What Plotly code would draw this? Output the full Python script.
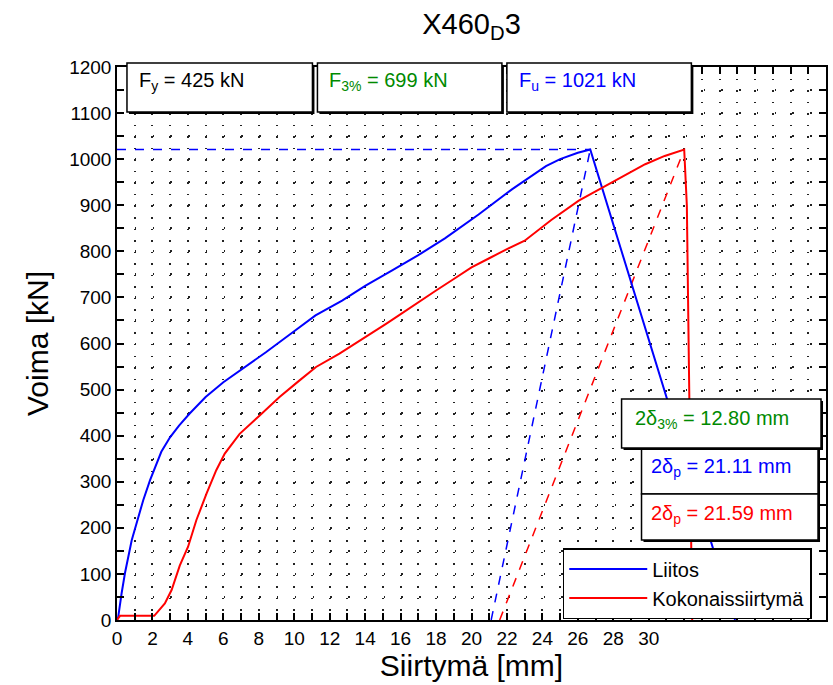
import plotly.graph_objects as go

# ---------------- data ----------------
liitos_x = [0, 0.07, 0.26, 0.45, 0.83, 1.1, 1.48, 1.86, 2.14, 2.5, 3.0, 3.5, 4.1, 5.0, 6.0,
            7.1, 8.4, 9.9, 11.2, 12.7, 14.0, 15.5, 17.0, 18.5, 20.4, 22.3, 24.2, 25.0, 26.0,
            26.7, 31.0, 34.87]
liitos_y = [0, 7, 58, 102, 173, 210, 260, 303, 332, 365, 397, 422, 448, 484, 516,
            545, 581, 624, 661, 693, 725, 758, 792, 828, 880, 935, 985, 1000, 1014,
            1021, 484, 0]

koko_x = [0, 0.17, 2.1, 2.7, 3.08, 3.54, 4.01, 4.48, 5.05, 5.6, 6.08, 6.92, 8.05, 9.17,
          10.3, 11.23, 12.55, 14.05, 15.2, 15.9, 17.0, 18.0, 19.0, 20.0, 21.0, 22.0, 23.0,
          24.5, 26.05, 27.9, 29.8, 30.9, 32.0, 32.15, 32.27, 32.45]
koko_y = [0, 9, 9, 36, 65, 118, 159, 217, 274, 325, 361, 404, 444, 484,
          520, 549, 578, 614, 643, 661, 690, 715, 740, 765, 785, 805, 823,
          868, 910, 949, 989, 1007, 1021, 899, 484, 0]

F_y, F_3, F_u = 425, 699, 1021
delta_3 = 12.80          # 2δ3%
delta_p_liitos = 21.11   # 2δp (Liitos)
delta_p_koko = 21.59     # 2δp (Kokonaissiirtymä)
x_peak_liitos, x_peak_koko = 26.7, 32.0

x_ticks = list(range(0, 31, 2))
y_ticks = list(range(0, 1201, 100))

BLUE, RED, GREEN = "#0000ff", "#ff0000", "#008a00"
FONT = "Liberation Sans, Arial, sans-serif"

# ---------------- figure ----------------
fig = go.Figure()
fig.add_trace(go.Scatter(x=[0, x_peak_liitos], y=[F_u, F_u], mode="lines",
                         line=dict(color=BLUE, width=1.5, dash="dash"), showlegend=False))
fig.add_trace(go.Scatter(x=[delta_p_liitos, x_peak_liitos], y=[0, F_u], mode="lines",
                         line=dict(color=BLUE, width=1.5, dash="dash"), showlegend=False))
fig.add_trace(go.Scatter(x=[delta_p_koko, x_peak_koko], y=[0, F_u], mode="lines",
                         line=dict(color=RED, width=1.5, dash="dash"), showlegend=False))
fig.add_trace(go.Scatter(x=liitos_x, y=liitos_y, mode="lines", name="Liitos",
                         line=dict(color=BLUE, width=2)))
fig.add_trace(go.Scatter(x=koko_x, y=koko_y, mode="lines", name="Kokonaissiirtymä",
                         line=dict(color=RED, width=2)))

# plot area in pixels
L, R, T, B = 117, 828, 67, 620
W, H = 833, 685


def px(x):
    return (x - L) / (R - L)


def py(y):
    return (B - y) / (B - T)


shapes = []
annotations = []


def box(x0, y0, x1, y1):
    shapes.append(dict(type="rect", xref="paper", yref="paper", layer="above",
                       x0=px(x0 + 2), x1=px(x1 + 2), y0=py(y1 + 2), y1=py(y0 + 2),
                       line=dict(width=0), fillcolor="black"))
    shapes.append(dict(type="rect", xref="paper", yref="paper", layer="above",
                       x0=px(x0), x1=px(x1), y0=py(y1), y1=py(y0),
                       line=dict(width=1.5, color="black"), fillcolor="white"))


def label(text, x, y, color):
    annotations.append(dict(text=text, xref="paper", yref="paper", x=px(x), y=py(y),
                            xanchor="left", yanchor="middle", showarrow=False,
                            font=dict(family=FONT, size=20, color=color)))


box(127, 63, 313, 112)
box(318, 63, 503, 112)
box(508, 63, 693, 112)
label(f"F<sub>y</sub> = {F_y} kN", 137, 82, "black")
label(f"F<sub>3%</sub> = {F_3} kN", 328, 82, GREEN)
label(f"F<sub>u</sub> = {F_u} kN", 518, 82, BLUE)

box(643, 448, 820, 494)
box(643, 494, 820, 540)
box(623, 399, 823, 448)
label(f"2δ<sub>3%</sub> = {delta_3:.2f} mm", 634, 420, GREEN)
label(f"2δ<sub>p</sub> = {delta_p_liitos:.2f} mm", 650, 467, BLUE)
label(f"2δ<sub>p</sub> = {delta_p_koko:.2f} mm", 650, 514, RED)

axis_common = dict(showline=True, linecolor="black", linewidth=1.5, mirror="allticks",
                   ticks="inside", ticklen=7, tickwidth=1.5, tickcolor="black",
                   zeroline=False, tickfont=dict(family=FONT, size=19, color="black"),
                   showgrid=True, gridcolor="#222222", gridwidth=1.5)

fig.update_layout(
    width=W, height=H, autosize=False,
    margin=dict(l=L, r=W - R, t=T, b=H - B),
    plot_bgcolor="white", paper_bgcolor="white",
    title=dict(text="X460<sub>D</sub>3", x=0.5, xref="paper", y=1 - 24 / H, yref="container",
               xanchor="center", yanchor="middle",
               font=dict(family=FONT, size=29, color="black")),
    xaxis=dict(range=[0, 40], tickmode="array", tickvals=x_ticks,
               ticktext=[str(v) for v in x_ticks],
               griddash="1.5px,10.04px",
               minor=dict(dtick=1, tick0=0, ticks="inside", ticklen=7, tickwidth=1.5,
                          tickcolor="black", showgrid=True, gridcolor="#222222",
                          gridwidth=1.5, griddash="1.5px,10.04px"),
               title=dict(text="Siirtymä [mm]", standoff=4,
                          font=dict(family=FONT, size=30, color="black")),
               **axis_common),
    yaxis=dict(range=[0, 1200], tickmode="array", tickvals=y_ticks,
               ticktext=[str(v) for v in y_ticks],
               griddash="1.5px,16.275px",
               minor=dict(dtick=50, tick0=0, ticks="inside", ticklen=7, tickwidth=1.5,
                          tickcolor="black", showgrid=True, gridcolor="#222222",
                          gridwidth=1.5, griddash="1.5px,16.275px"),
               title=dict(text="Voima [kN]", standoff=12,
                          font=dict(family=FONT, size=30, color="black")),
               **axis_common),
    legend=dict(x=px(564), y=py(548), xanchor="left", yanchor="top",
                bgcolor="white", bordercolor="black", borderwidth=1.5,
                font=dict(family=FONT, size=20, color="black"), itemwidth=78,
                tracegroupgap=0),
    shapes=shapes, annotations=annotations,
)

fig.write_html("out.html")
